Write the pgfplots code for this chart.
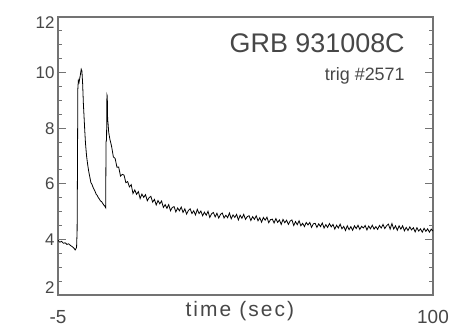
\documentclass[border=0pt]{standalone}
\usepackage{fontspec}
\setmainfont{Liberation Sans}
\usepackage{pgfplots}
\pgfplotsset{compat=1.18}
\definecolor{txt}{gray}{0.28}
\definecolor{axc}{gray}{0.45}
\begin{document}
\begin{tikzpicture}
\useasboundingbox (-58bp,-31bp) rectangle (391bp,295bp);
\begin{axis}[
  at={(0,0)}, anchor=south west, scale only axis,
  width=375bp, height=278bp,
  xmin=-5, xmax=100, ymin=2, ymax=12,
  axis line style={draw=axc, line width=1.3pt},
  xtick={-5,100}, xticklabels={-5,100}, xtick style={draw=none},
  xticklabel style={font=\fontsize{19}{19}\selectfont, text=txt, anchor=base, yshift=-28bp},
  ytick={2,4,6,8,10,12},
  yticklabels={\raisebox{7bp}[\height][\depth]{2},4,6,8,10,\raisebox{-6bp}[\height][\depth]{12}},
  yticklabel style={font=\fontsize{17}{17}\selectfont, text=txt},
  minor y tick num=3,
  ytick pos=both, yticklabel pos=left,
  major tick length=8bp, minor tick length=4bp,
  every tick/.style={axc, line width=0.9pt},
  xlabel={\addfontfeatures{LetterSpace=10}time (sec)},
  xlabel style={font=\fontsize{21}{21}\selectfont, text=txt, at={(axis description cs:0.485,0)}, anchor=center, yshift=-16bp},
  clip=true,
]
\addplot[black, line width=0.8pt] coordinates {
(-5.0,3.97) (-4.5,3.90) (-4.0,3.93) (-3.5,3.86) (-3.0,3.88) (-2.5,3.82) (-2.0,3.84) (-1.5,3.78) (-1.0,3.74) (-0.5,3.68) (-0.2,3.62) (0.0,3.66) (0.2,3.72)
(0.35,4.30) (0.45,6.50) (0.55,9.40) (0.7,9.72) (0.9,9.65) (1.1,9.80) (1.3,9.95) (1.5,10.12) (1.7,10.05) (1.9,9.60) (2.1,8.90) (2.3,8.40) (2.5,7.90) (2.7,7.45)
(3.0,7.00) (3.3,6.70) (3.6,6.45) (3.9,6.25) (4.2,6.05) (4.5,5.98) (4.8,5.88) (5.1,5.80) (5.4,5.72) (5.7,5.62) (6.0,5.58) (6.3,5.50) (6.6,5.45) (6.9,5.38)
(7.2,5.36) (7.5,5.30) (7.8,5.24) (8.1,5.20) (8.35,5.14) (8.45,7.50) (8.6,7.60) (8.7,9.20) (8.8,9.15) (8.9,8.30) (9.0,8.20) (9.2,7.85) (9.5,7.62)
(10.0,7.35) (10.5,6.97) (11.0,6.91) (11.5,6.60) (12.0,6.60) (12.5,6.28) (13.0,6.34) (13.5,6.31) (14.0,6.04) (14.5,6.08) (15.0,5.89) (15.5,5.97)
(16.0,5.65) (16.5,5.78) (17.0,5.62) (17.5,5.72) (18.0,5.47) (18.5,5.63) (19.0,5.51) (19.5,5.61) (20.0,5.39) (20.5,5.50) (21.0,5.55) (21.5,5.34)
(22.0,5.44) (22.5,5.24) (23.0,5.40) (23.5,5.28) (24.0,5.38) (24.5,5.15) (25.0,5.25) (25.5,5.12) (26.0,5.25) (26.5,5.03) (27.0,5.15) (27.5,5.18)
(28.0,4.99) (28.5,5.13) (29.0,5.03) (29.5,5.16) (30.0,4.97) (30.5,5.10) (31.0,4.91) (31.5,5.04) (32.0,5.10) (32.5,4.93) (33.0,5.03) (33.5,4.88)
(34.0,5.08) (34.5,4.93) (35.0,5.02) (35.5,4.85) (36.0,4.98) (36.5,4.87) (37.0,5.01) (37.5,4.79) (38.0,4.92) (38.5,4.97) (39.0,4.81) (39.5,4.94)
(40.0,4.77) (40.5,4.90) (41.0,4.95) (41.5,4.77) (42.0,4.87) (42.5,4.78) (43.0,4.95) (43.5,4.74) (44.0,4.88) (44.5,4.79) (45.0,4.90) (45.5,4.70)
(46.0,4.87) (46.5,4.76) (47.0,4.90) (47.5,4.72) (48.0,4.82) (48.5,4.85) (49.0,4.68) (49.5,4.82) (50.0,4.72) (50.5,4.85) (51.0,4.67) (51.5,4.78)
(52.0,4.62) (52.5,4.79) (53.0,4.69) (53.5,4.80) (54.0,4.60) (54.5,4.71) (55.0,4.73) (55.5,4.59) (56.0,4.75) (56.5,4.61) (57.0,4.70) (57.5,4.54)
(58.0,4.72) (58.5,4.60) (59.0,4.69) (59.5,4.54) (60.0,4.66) (60.5,4.70) (61.0,4.50) (61.5,4.64) (62.0,4.53) (62.5,4.67) (63.0,4.49) (63.5,4.58)
(64.0,4.46) (64.5,4.61) (65.0,4.52) (65.5,4.61) (66.0,4.43) (66.5,4.56) (67.0,4.58) (67.5,4.43) (68.0,4.56) (68.5,4.46) (69.0,4.59) (69.5,4.41)
(70.0,4.53) (70.5,4.43) (71.0,4.57) (71.5,4.45) (72.0,4.54) (72.5,4.37) (73.0,4.51) (73.5,4.41) (74.0,4.55) (74.5,4.38) (75.0,4.47) (75.5,4.32)
(76.0,4.49) (76.5,4.35) (77.0,4.46) (77.5,4.33) (78.0,4.49) (78.5,4.39) (79.0,4.51) (79.5,4.36) (80.0,4.47) (80.5,4.41) (81.0,4.50) (81.5,4.34)
(82.0,4.48) (82.5,4.38) (83.0,4.51) (83.5,4.37) (84.0,4.46) (84.5,4.36) (85.0,4.50) (85.5,4.41) (86.0,4.54) (86.5,4.39) (87.0,4.49) (87.5,4.55)
(88.0,4.37) (88.5,4.57) (89.0,4.37) (89.5,4.49) (90.0,4.33) (90.5,4.49) (91.0,4.37) (91.5,4.49) (92.0,4.31) (92.5,4.43) (93.0,4.32) (93.5,4.45)
(94.0,4.34) (94.5,4.42) (95.0,4.27) (95.5,4.42) (96.0,4.30) (96.5,4.38) (97.0,4.26) (97.5,4.40) (98.0,4.29) (98.5,4.38) (99.0,4.26) (99.5,4.37) (100.0,4.30)
};
\node[anchor=east, font=\fontsize{27}{27}\selectfont, text=txt, inner sep=0pt] at (rel axis cs:0.925,0.906) {GRB 931008C};
\node[anchor=east, font=\fontsize{18}{18}\selectfont, text=txt, inner sep=0pt] at (rel axis cs:0.925,0.788) {trig \#2571};
\end{axis}
\end{tikzpicture}
\end{document}
